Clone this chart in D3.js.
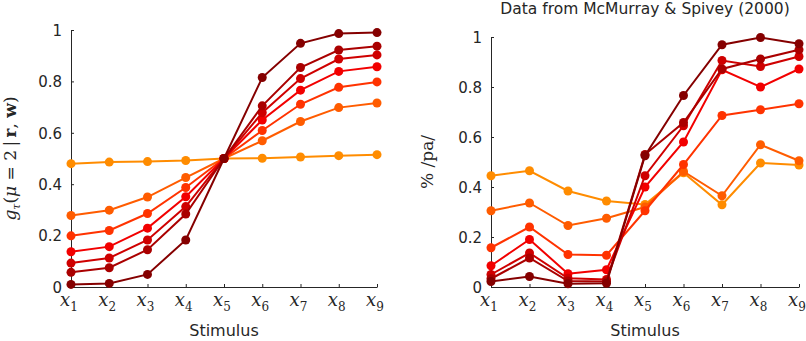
<!DOCTYPE html>
<html>
<head>
<meta charset="utf-8">
<script src="https://cdn.jsdelivr.net/npm/d3@7"></script>
<style>
  body { margin: 0; background: #fff; }
  svg { display: block; }
  .axis path, .axis line { stroke: #262626; stroke-width: 1; }
  .axis text { fill: #262626; }
</style>
</head>
<body>
<script>
var width = 806,
    height = 341;

var stimuli = [1, 2, 3, 4, 5, 6, 7, 8, 9];
var yTicks = [0, 0.2, 0.4, 0.6, 0.8, 1];

// series colours, darkest first
var colors = ["#850000", "#aa0000", "#cf0000", "#f20000", "#ff3300", "#ff5c00", "#ff8c00"];

// model predictions (left)
var model1 = [0.010, 0.014, 0.049, 0.183, 0.50, 0.815, 0.948, 0.986, 0.990];
var model2 = [0.057, 0.075, 0.145, 0.284, 0.50, 0.705, 0.854, 0.922, 0.937];
var model3 = [0.093, 0.113, 0.183, 0.313, 0.50, 0.678, 0.811, 0.887, 0.903];
var model4 = [0.137, 0.157, 0.229, 0.351, 0.50, 0.650, 0.766, 0.839, 0.857];
var model5 = [0.199, 0.220, 0.286, 0.387, 0.50, 0.609, 0.711, 0.777, 0.798];
var model6 = [0.278, 0.299, 0.350, 0.426, 0.50, 0.569, 0.644, 0.698, 0.716];
var model7 = [0.480, 0.486, 0.488, 0.492, 0.50, 0.501, 0.506, 0.511, 0.515];

// McMurray & Spivey (2000) data (right)
var data1 = [0.022, 0.042, 0.013, 0.015, 0.525, 0.766, 0.969, 0.998, 0.973];
var data2 = [0.033, 0.116, 0.024, 0.022, 0.530, 0.658, 0.872, 0.912, 0.949];
var data3 = [0.050, 0.136, 0.035, 0.030, 0.445, 0.645, 0.906, 0.882, 0.922];
var data4 = [0.085, 0.190, 0.053, 0.069, 0.400, 0.580, 0.869, 0.800, 0.872];
var data5 = [0.157, 0.240, 0.130, 0.127, 0.305, 0.490, 0.686, 0.709, 0.733];
var data6 = [0.305, 0.336, 0.246, 0.275, 0.320, 0.462, 0.365, 0.569, 0.505];
var data7 = [0.445, 0.465, 0.384, 0.344, 0.330, 0.457, 0.329, 0.496, 0.488];

var modelSeries = [model1, model2, model3, model4, model5, model6, model7];
var dataSeries = [data1, data2, data3, data4, data5, data6, data7];

var svg = d3.select("body").append("svg")
    .attr("width", width)
    .attr("height", height);

function panel(series, left, right, top, bottom, title, ylabelFn, ylabelX) {
  var x = d3.scaleLinear().domain([1, 9]).range([left, right]);
  var y = d3.scaleLinear().domain([0, 1]).range([bottom, top]);

  var g = svg.append("g");

  var xAxis = d3.axisBottom(x)
      .tickValues(stimuli)
      .tickSizeInner(-3)
      .tickSizeOuter(0)
      .tickFormat("");
  g.append("g")
      .attr("class", "axis")
      .attr("transform", "translate(0," + bottom + ")")
      .call(xAxis);

  var yAxis = d3.axisLeft(y)
      .tickValues(yTicks)
      .tickSizeInner(-3)
      .tickSizeOuter(0)
      .tickPadding(9)
      .tickFormat(function (d) { return d3.format("")(+d.toFixed(1)); });
  g.append("g")
      .attr("class", "axis")
      .attr("transform", "translate(" + left + ",0)")
      .call(yAxis)
      .selectAll("text")
      .style("font-family", "DejaVu Sans, sans-serif")
      .style("font-size", "15px")
      .attr("dy", "0.35em");

  // x tick labels: x with subscript
  var lab = g.selectAll(".xlab")
      .data(stimuli)
      .enter().append("text")
      .attr("class", "xlab")
      .attr("x", function (d) { return x(d) - 2; })
      .attr("y", bottom + 19)
      .attr("text-anchor", "middle")
      .style("font-family", "DejaVu Serif, serif")
      .style("fill", "#262626");
  lab.append("tspan")
      .style("font-style", "italic")
      .style("font-size", "18px")
      .text("x");
  lab.append("tspan")
      .attr("dy", 5)
      .style("font-size", "12px")
      .text(function (d) { return d; });

  g.append("text")
      .attr("x", (left + right) / 2)
      .attr("y", 336)
      .attr("text-anchor", "middle")
      .style("font-family", "DejaVu Sans, sans-serif")
      .style("font-size", "16px")
      .style("fill", "#262626")
      .text("Stimulus");

  if (title) {
    g.append("text")
        .attr("x", (left + right) / 2)
        .attr("y", 14)
        .attr("text-anchor", "middle")
        .style("font-family", "DejaVu Sans, sans-serif")
        .style("font-size", "15.5px")
        .style("fill", "#262626")
        .text(title);
  }

  var yl = g.append("text")
      .attr("transform", "translate(" + ylabelX + "," + (top + bottom) / 2 + ")rotate(-90)")
      .attr("text-anchor", "middle")
      .style("font-family", "DejaVu Serif, serif")
      .style("font-size", "17px")
      .style("fill", "#262626");
  ylabelFn(yl);

  var line = d3.line()
      .x(function (d, i) { return x(stimuli[i]); })
      .y(function (d) { return y(d); });

  // lightest drawn first so dark lines sit on top
  var order = d3.range(series.length).reverse();
  order.forEach(function (k) {
    var s = series[k];
    g.append("path")
        .datum(s)
        .attr("fill", "none")
        .attr("stroke", colors[k])
        .attr("stroke-width", 2)
        .attr("d", line);
    g.selectAll(".dot" + k)
        .data(s)
        .enter().append("circle")
        .attr("class", "dot" + k)
        .attr("cx", function (d, i) { return x(stimuli[i]); })
        .attr("cy", function (d) { return y(d); })
        .attr("r", 4.5)
        .attr("fill", colors[k]);
  });
}

panel(modelSeries, 71, 377, 30, 287, null, function (t) {
  t.append("tspan").style("font-style", "italic").text("g");
  t.append("tspan").attr("dy", 4).style("font-size", "11px").style("font-style", "italic").text("τ");
  t.append("tspan").attr("dy", -4).text("(");
  t.append("tspan").style("font-style", "italic").text("μ");
  t.append("tspan").text(" = 2\u2009|\u2009");
  t.append("tspan").style("font-weight", "bold").text("r");
  t.append("tspan").text(", ");
  t.append("tspan").style("font-weight", "bold").text("w");
  t.append("tspan").text(")");
}, 16);

panel(dataSeries, 491, 799, 37, 287, "Data from McMurray & Spivey (2000)", function (t) {
  t.append("tspan").text("% /pa/");
}, 433);
</script>
</body>
</html>
